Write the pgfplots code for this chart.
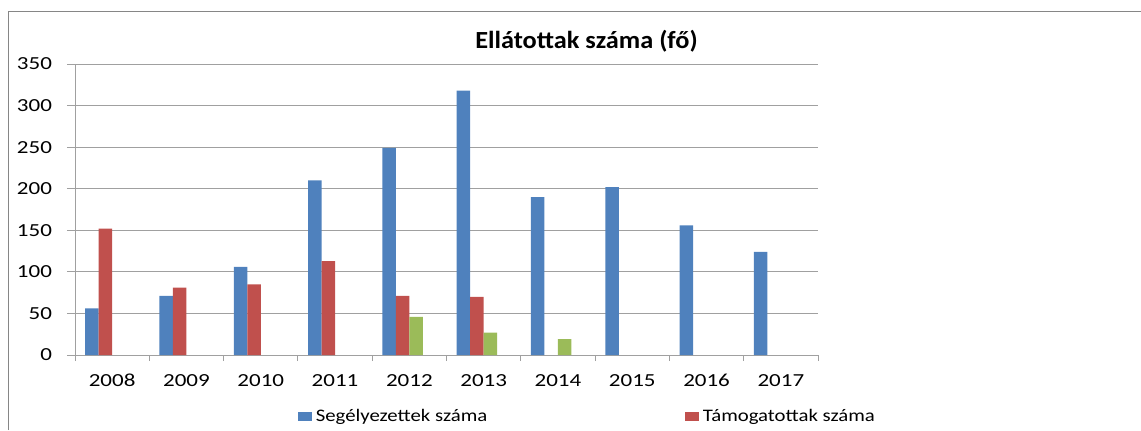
\documentclass[border=0pt]{standalone}
\usepackage{pgfplots}
\pgfplotsset{compat=1.18}
\usepackage{fontspec}
\setmainfont{Carlito}[FakeStretch=1.13]
\newfontfamily\tickfont{Carlito}[FakeStretch=1.25]
\newfontfamily\titlefont{Carlito}[FakeStretch=1.07]
\newfontfamily\legfont{Carlito}[FakeStretch=1.18]
\definecolor{cblue}{HTML}{4F81BD}
\definecolor{cred}{HTML}{C0504D}
\definecolor{cgreen}{HTML}{9BBB59}
\definecolor{cgrid}{HTML}{A0A0A0}
\definecolor{cframe}{HTML}{868686}
\begin{document}
\begin{tikzpicture}
\useasboundingbox (0,0) rectangle (570.5pt,215pt);
\draw[cframe, line width=0.5pt] (4pt,0) -- (4pt,209.5pt) -- (572pt,209.5pt);
\node[font=\titlefont\fontsize{12.3}{14}\selectfont\bfseries] at (293.25pt,194.5pt) {Ellátottak száma (fő)};
\begin{axis}[
  at={(37.5pt,37.5pt)}, anchor=south west,
  scale only axis, width=371.5pt, height=145.5pt,
  xmin=-0.5, xmax=9.5, ymin=0, ymax=350,
  ytick={0,50,...,350},
  xtick={0,...,9},
  xticklabels={2008,2009,2010,2011,2012,2013,2014,2015,2016,2017},
  minor xtick={-0.5,0.5,...,9.5},
  axis lines*=left,
  axis line style={cgrid, line width=0.5pt},
  tick align=outside,
  major tick length=4pt,
  minor tick length=3pt,
  x tick style={draw=none},
  minor x tick style={draw=cgrid, line width=0.5pt},
  y tick style={draw=cgrid, line width=0.5pt},
  ymajorgrids,
  grid style={cgrid, line width=0.5pt},
  ticklabel style={font=\tickfont\fontsize{9.2}{10}\selectfont, text=black},
  /pgf/number format/assume math mode=true,
  yticklabel style={xshift=-4pt},
  xticklabel style={yshift=-2pt},
  ybar, bar width=6.75pt,
  legend style={at={(0.300,-0.213)}, anchor=west, draw=none, inner sep=0pt,
    font=\legfont\fontsize{8.8}{10}\selectfont, legend columns=2,
    /tikz/every even column/.append style={column sep=97pt}},
  legend image code/.code={\fill[#1] (0pt,-2.25pt) rectangle (6.75pt,2.25pt);},
]
\addplot[fill=cblue, draw=none, bar shift=-10.125pt] coordinates {
 (0,56) (1,71) (2,106) (3,210) (4,249) (5,318) (6,190) (7,202) (8,156) (9,124)};
\addlegendentry{Segélyezettek száma}
\addplot[fill=cred, draw=none, bar shift=-3.375pt] coordinates {
 (0,152) (1,81) (2,85) (3,113) (4,71) (5,70)};
\addlegendentry{Támogatottak száma}
\addplot[fill=cgreen, draw=none, bar shift=3.375pt, forget plot] coordinates {
 (4,46) (5,27) (6,19)};
\end{axis}
\end{tikzpicture}
\end{document}
